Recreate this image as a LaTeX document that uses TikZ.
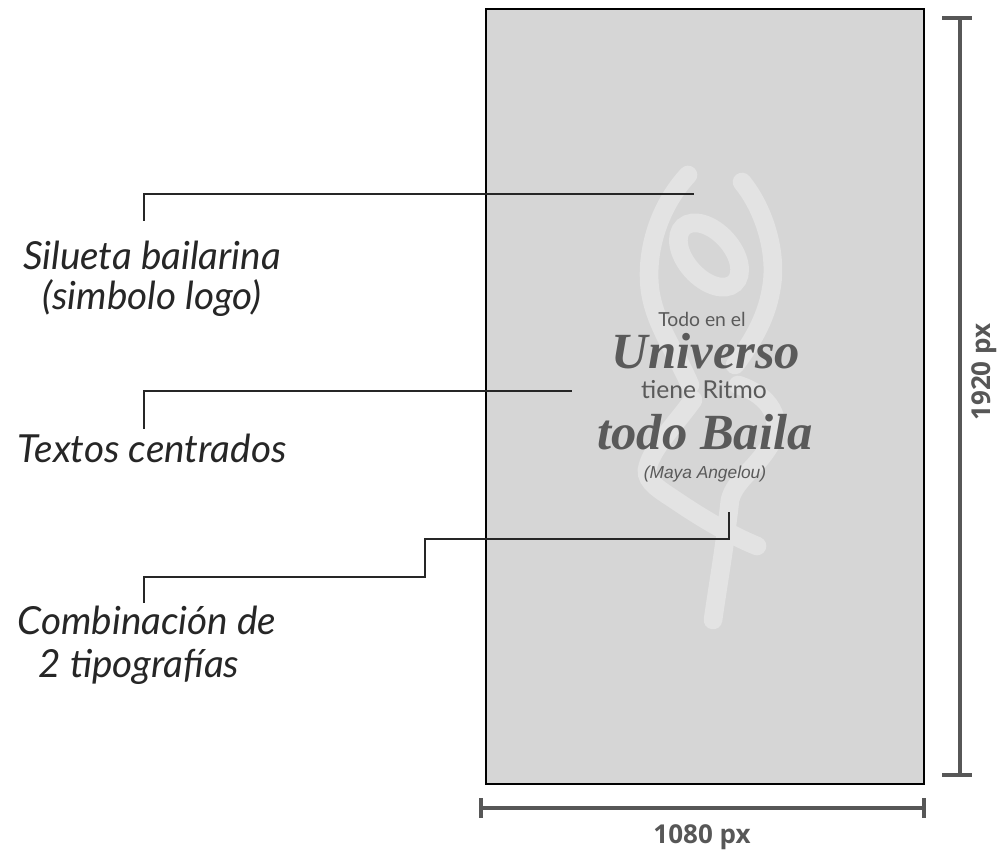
\documentclass[tikz,border=0pt]{standalone}
\usepackage{fontspec}
\usetikzlibrary{calc}
\newfontfamily\handfont{Lato}
\newfontfamily\dimfont{Open Sans}
\newfontfamily\posterfont{Lato}
\newfontfamily\displayfont{Liberation Serif}
\newfontfamily\citefont{Liberation Sans}
\definecolor{panelgray}{HTML}{D6D6D6}
\definecolor{dancergray}{HTML}{E3E3E3}
\definecolor{inkgray}{HTML}{5A5A5A}
\definecolor{dimgray}{HTML}{575757}
\tikzset{
 note/.style={font=\handfont\itshape\fontsize{29}{29}\selectfont, inner sep=0, text=black!85},
 leader/.style={black!85, line width=1.7pt},
 dim/.style={dimgray, line width=3.6pt},
 dimtext/.style={dimgray, font=\dimfont\bfseries\fontsize{19.5}{19.5}\selectfont, inner sep=0},
 dancer/.style={dancergray, line width=14pt, line cap=round},
 poster/.style={inkgray, inner sep=0, font=\posterfont\fontsize{14.5}{14.5}\selectfont},
 display/.style={inkgray, inner sep=0, font=\displayfont\bfseries\itshape\fontsize{38}{38}\selectfont},
}
\begin{document}
\begin{tikzpicture}[x=.75pt,y=-.75pt]
\useasboundingbox (0,0) rectangle (1001,852);
\draw[black, line width=1.2pt, fill=panelgray] (486,9) rectangle (924,784);

\draw[dancer] (688,175) .. controls (660,205) and (645,250) .. (650,290) .. controls (655,325) and (675,350) .. (690,385);
\draw[dancer] (742,182) .. controls (765,210) and (778,255) .. (771,290) .. controls (766,320) and (750,345) .. (735,365);
\draw[dancer, rotate around={-48:(709,255)}] (709,255) ellipse (38 and 23);
\draw[dancer] (693,400) .. controls (675,425) and (650,450) .. (647,470) .. controls (646,482) and (660,490) .. (675,500) .. controls (700,517) and (730,535) .. (757,546);
\draw[dancer] (738,385) .. controls (770,395) and (785,420) .. (770,445) .. controls (755,470) and (735,480) .. (730,500) .. controls (725,545) and (718,585) .. (713,620);

\node[poster] (todo) at (702,319) {Todo en el};
\node[display] (universo) at (706,351) {Universo};
\node[poster, font=\posterfont\fontsize{18.5}{18.5}\selectfont] (tiene) at (704,390) {tiene Ritmo};
\node[display] (baila) at (705,432) {todo Baila};
\node[poster, font=\citefont\itshape\fontsize{13}{13}\selectfont] (maya) at (705,474) {(Maya Angelou)};

\node[note] (silueta) at (152,255) {Silueta bailarina};
\node[note] (simbolo) at (152,298) {(simbolo logo)};
\node[note] (textos) at (152,448) {Textos centrados};
\node[note] (combina) at (147,620) {Combinación de};
\node[note] (tipos) at (139,667) {2 tipografías};

\coordinate (logotip) at (694,194);
\coordinate (textip) at (572,391);
\coordinate (fonttip) at (729,512);
\coordinate (siluetaup) at (144,221);
\coordinate (textosup) at (144,429);
\coordinate (combinaup) at (144,603);
\draw[leader] (siluetaup) |- (logotip);
\draw[leader] (textosup) |- (textip);
\draw[leader] (combinaup) |- (425,577) |- (729,539) -- (fonttip);

\coordinate (hightop) at (960,18);
\coordinate (highbot) at (960,775);
\coordinate (wideleft) at (481,808);
\coordinate (wideright) at (924,808);
\draw[dim] (hightop) -- (highbot);
\draw[dim] (wideleft) -- (wideright);
\foreach \y in {18,775} {
 \draw[dim] (942,\y)--++(30,0);
}
\foreach \x in {481,924} {
 \draw[dim, line width=2.6pt] (\x,798)--++(0,20);
}
\node[dimtext, rotate=90] (high) at (984,372) {1920 px};
\node[dimtext] (wide) at (702,837) {1080 px};
\end{tikzpicture}
\end{document}
